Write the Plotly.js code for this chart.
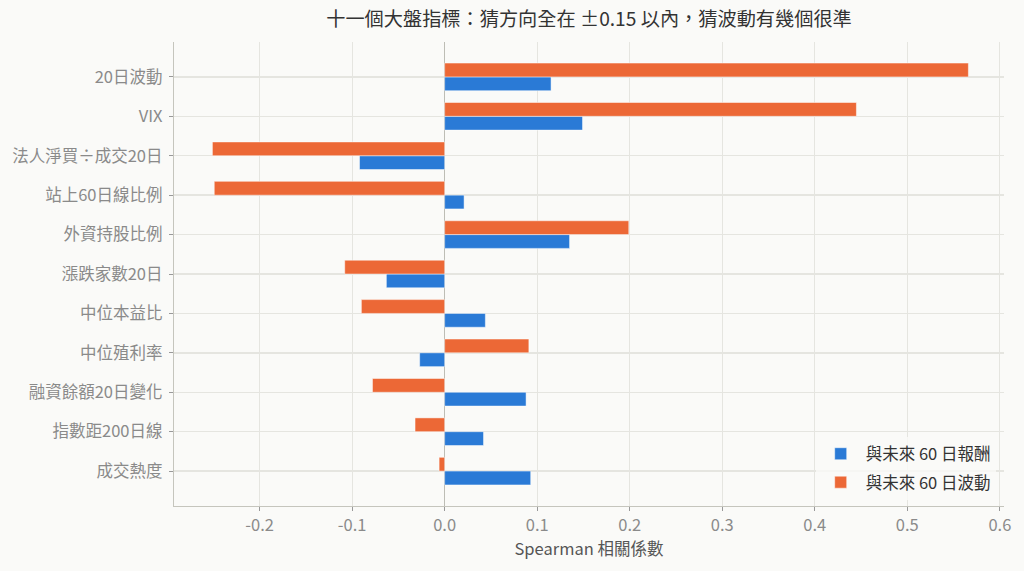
<!DOCTYPE html>
<html>
<head>
<meta charset="utf-8">
<script src="https://cdn.plot.ly/plotly-3.0.1.min.js"></script>
<style>
  html, body { margin: 0; padding: 0; background: #fafaf8; }
  #chart { width: 1024px; height: 571px; }
</style>
</head>
<body>
<div id="chart"></div>
<script>
// Indicators, top to bottom as shown
const indicators = [
    '20日波動', 'VIX', '法人淨買÷成交20日', '站上60日線比例', '外資持股比例',
    '漲跌家數20日', '中位本益比', '中位殖利率', '融資餘額20日變化', '指數距200日線', '成交熱度'
];
// Spearman vs next 60-day return
const corrReturn = [0.115, 0.149, -0.092, 0.021, 0.135, -0.063, 0.044, -0.027, 0.088, 0.042, 0.093];
// Spearman vs next 60-day volatility
const corrVol = [0.566, 0.445, -0.251, -0.249, 0.199, -0.108, -0.090, 0.091, -0.078, -0.032, -0.006];

const seriesNames = ['與未來 60 日報酬', '與未來 60 日波動'];
const xTicks = [-0.2, -0.1, 0.0, 0.1, 0.2, 0.3, 0.4, 0.5, 0.6];

const FONT = '"Noto Sans CJK TC", "Noto Sans", sans-serif';

// plotly puts first category at the bottom, so feed reversed
const cats = indicators.slice().reverse();

const traces = [
    {
        type: 'bar',
        orientation: 'h',
        name: seriesNames[0],
        legendgroup: 'ret',
        y: cats,
        x: corrReturn.slice().reverse(),
        marker: { color: '#2a7ad6', line: { color: 'rgba(255,255,255,0.6)', width: 0.8 } },
        hoverinfo: 'x+name'
    },
    {
        type: 'bar',
        orientation: 'h',
        name: seriesNames[1],
        legendgroup: 'vol',
        y: cats,
        x: corrVol.slice().reverse(),
        marker: { color: '#ec6836', line: { color: 'rgba(255,255,255,0.6)', width: 0.8 } },
        hoverinfo: 'x+name'
    }
];

const layout = {
    width: 1024,
    height: 571,
    paper_bgcolor: '#fafaf8',
    plot_bgcolor: '#fafaf8',
    font: { family: FONT, color: '#555' },
    margin: { l: 174, r: 20, t: 42, b: 65 },
    barmode: 'group',
    bargap: 0.3,
    bargroupgap: 0,
    title: {
        text: '十一個大盤指標：猜方向全在 ±0.15 以內，猜波動有幾個很準',
        font: { family: FONT, size: 19.2, color: '#333' },
        x: 0.5,
        xref: 'paper',
        xanchor: 'center',
        y: 0.966,
        yanchor: 'middle'
    },
    xaxis: {
        range: [-0.2925, 0.6045],
        tickvals: xTicks,
        ticktext: xTicks.map(v => v.toFixed(1)),
        tickfont: { family: FONT, size: 16.5, color: '#8a8a8a' },
        showgrid: true,
        gridcolor: '#e5e5e0',
        gridwidth: 1.2,
        zeroline: true,
        zerolinecolor: '#bdbdb5',
        zerolinewidth: 1.5,
        showline: true,
        linecolor: '#c5c5bd',
        linewidth: 1.2,
        ticks: 'outside',
        ticklen: 4,
        tickcolor: '#999',
        title: {
            text: 'Spearman 相關係數',
            font: { family: FONT, size: 16.5, color: '#555' },
            standoff: 6
        }
    },
    yaxis: {
        type: 'category',
        range: [-0.885, 10.885],
        tickfont: { family: FONT, size: 16.5, color: '#8a8a8a' },
        ticklabelstandoff: 3,
        showgrid: true,
        gridcolor: '#e5e5e0',
        gridwidth: 1.5,
        zeroline: false,
        showline: true,
        linecolor: '#c5c5bd',
        linewidth: 1.2,
        ticks: 'outside',
        ticklen: 4,
        tickcolor: '#999'
    },
    showlegend: true,
    legend: {
        x: 0.99,
        xanchor: 'right',
        y: 0.014,
        yanchor: 'bottom',
        bgcolor: 'rgba(250,250,248,0.8)',
        borderwidth: 0,
        font: { family: FONT, size: 16.5, color: '#333' },
        traceorder: 'grouped',
        tracegroupgap: 4,
        itemwidth: 40
    }
};

Plotly.newPlot('chart', traces, layout, { displayModeBar: false, staticPlot: true });
</script>
</body>
</html>
